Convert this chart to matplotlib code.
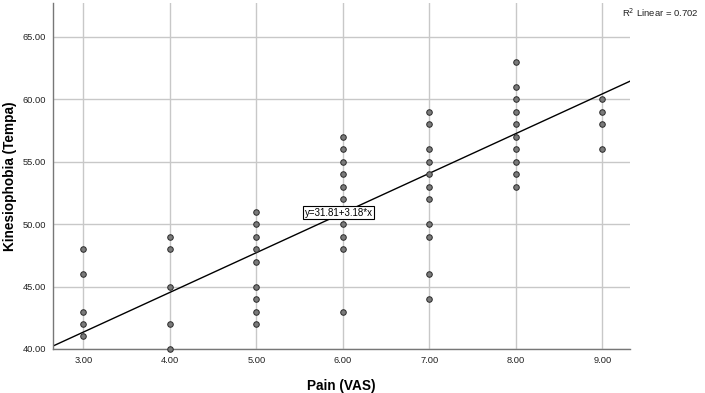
import numpy as np
import matplotlib
matplotlib.use("Agg")
import matplotlib.pyplot as plt

plt.rcParams['font.family'] = ['Liberation Sans', 'DejaVu Sans']

# Pain (VAS) -> Kinesiophobia (Tempa) scores, read per column
pain_levels = [3, 4, 5, 6, 7, 8, 9]
tempa_at_3 = [48, 46, 43, 42, 41]
tempa_at_4 = [49, 48, 45, 42, 40]
tempa_at_5 = [51, 50, 49, 48, 47, 45, 44, 43, 42]
tempa_at_6 = [57, 56, 55, 54, 53, 52, 50, 49, 48, 43]
tempa_at_7 = [59, 58, 56, 55, 54, 53, 52, 50, 49, 46, 44]
tempa_at_8 = [63, 61, 60, 59, 58, 57, 56, 55, 54, 53]
tempa_at_9 = [60, 59, 58, 56]
columns = [tempa_at_3, tempa_at_4, tempa_at_5, tempa_at_6,
           tempa_at_7, tempa_at_8, tempa_at_9]

intercept = 31.81
slope = 3.18
r_squared = 0.702

x_ticks = [3, 4, 5, 6, 7, 8, 9]
y_ticks = [40, 45, 50, 55, 60, 65]

xs = np.concatenate([[p] * len(c) for p, c in zip(pain_levels, columns)])
ys = np.concatenate(columns)

fig = plt.figure(figsize=(7.05, 3.93), dpi=100)
ax = fig.add_axes([0.0752, 0.112, 0.8184, 0.880])

xlim = (2.65, 9.32)
ax.set_xlim(*xlim)
ax.set_ylim(40, 67.7)

ax.set_xticks(x_ticks)
ax.set_xticklabels([f"{v:.2f}" for v in x_ticks])
ax.set_yticks(y_ticks)
ax.set_yticklabels([f"{v:.2f}" for v in y_ticks])
ax.tick_params(length=0, labelsize=6.7, colors='#222222', pad=5)

ax.grid(True, color='#c8c8c8', linewidth=1.0)
ax.set_axisbelow(True)
for side in ['top', 'right']:
    ax.spines[side].set_visible(False)
for side in ['left', 'bottom']:
    ax.spines[side].set_color('#777777')
    ax.spines[side].set_linewidth(1.0)

# fit line
lx = np.array(xlim)
ax.plot(lx, intercept + slope * lx, color='black', linewidth=1.0, zorder=2)

ax.scatter(xs, ys, s=16, facecolor='#7a7a7a', edgecolor='#2a2a2a',
           linewidth=0.7, zorder=3, clip_on=False)

ax.text(5.95, 50.9, f"y={intercept:.2f}+{slope:.2f}*x", fontsize=7,
        ha='center', va='center', zorder=4,
        bbox=dict(boxstyle='square,pad=0.15', facecolor='white',
                  edgecolor='black', linewidth=0.8))

ax.set_xlabel("Pain (VAS)", fontsize=9.8, fontweight='bold', labelpad=10)
ax.set_ylabel("Kinesiophobia (Tempa)", fontsize=9.8, fontweight='bold')
ax.yaxis.set_label_coords(-0.063, 0.5)

fig.text(0.882, 0.968, f"R$^2$ Linear = {r_squared}", fontsize=6.8,
         ha='left', va='center', color='#222222')

fig.savefig("out.png", dpi=100)
